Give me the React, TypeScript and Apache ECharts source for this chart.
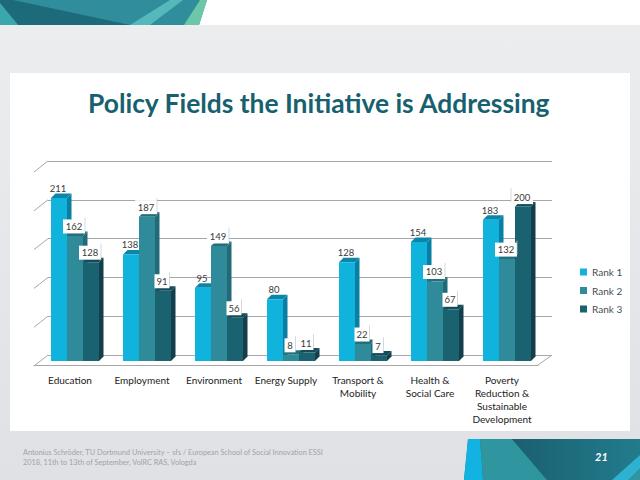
import React, { useEffect, useRef } from "react";
import * as echarts from "echarts";

const categories = ["Education", "Employment", "Environment", "Energy Supply", "Transport &\nMobility", "Health &\nSocial Care", "Poverty\nReduction &\nSustainable\nDevelopment"];
const rank1 = [211, 138, 95, 80, 128, 154, 183];
const rank2 = [162, 187, 149, 8, 22, 103, 132];
const rank3 = [128, 91, 56, 11, 7, 67, 200];
const rankNames = ["Rank 1", "Rank 2", "Rank 3"];
const wallTicks = [0, 50, 100, 150, 200, 250];
const titleText = "Policy Fields the Initiative is Addressing";
const footerText = "Antonius Schröder, TU Dortmund University – sfs / European School of Social Innovation ESSI\n2018, 11th to 13th of September, VolRC RAS, Vologda";
const pageNumber = "21";

const FONT = "Lato";
const faces = [
  { front: "#0fb3dc", top: "#0a86ab", side: "#0a7fa3" },
  { front: "#2f8a99", top: "#246f7c", side: "#226a76" },
  { front: "#1b6271", top: "#134b58", side: "#123f4b" },
];

function barItem(rank: number) {
  return (_: any, api: any) => {
    const [cx, y] = api.coord([api.value(0), api.value(1)]);
    const [, base] = api.coord([api.value(0), 0]);
    const band = api.size([1, 0])[0];
    const w = (band * 2) / 9;
    const x = cx + (rank - 1) * w - w / 2;
    const d = 4.5;
    const c = faces[rank];
    return {
      type: "group",
      children: [
        { type: "polygon", shape: { points: [[x + w, y], [x + w + d, y - d], [x + w + d, base - d], [x + w, base]] }, style: { fill: c.side } },
        { type: "polygon", shape: { points: [[x, y], [x + w, y], [x + w + d, y - d], [x + d, y - d]] }, style: { fill: c.top } },
        { type: "rect", shape: { x, y, width: w, height: base - y }, style: { fill: c.front } },
      ],
    };
  };
}

function labelItem(rank: number) {
  return (_: any, api: any) => {
    const v = api.value(1);
    const [cx, y] = api.coord([api.value(0), v]);
    const band = api.size([1, 0])[0];
    const w = (band * 2) / 9;
    const tx = cx + (rank - 1) * w - 1;
    const ty = y - 9.5;
    const text = String(v);
    const bw = text.length > 2 ? 22 : text.length > 1 ? 15 : 11;
    const children: any[] = [];
    if (rank > 0) {
      const leftRule = v === 200;
      const rx = leftRule ? tx - bw / 2 : tx + bw / 2;
      children.push({ type: "rect", shape: { x: tx - bw / 2, y: ty - 7, width: bw, height: 14 }, style: { fill: "#ffffff" } });
      children.push({ type: "line", shape: { x1: rx, y1: ty - 9, x2: rx, y2: ty + 5 }, style: { stroke: "#c4c8ca", lineWidth: 0.7 } });
    }
    children.push({ type: "text", style: { text, x: tx, y: ty, align: "center", verticalAlign: "middle", fontFamily: FONT, fontSize: 9.5, fill: "#3a3a3a" } });
    return { type: "group", children };
  };
}

function wallItem(_: any, api: any) {
  const v = api.value(0);
  const [x, y] = api.coord([0, v]);
  return { type: "line", shape: { x1: x, y1: y, x2: x - 14, y2: y + 11 }, style: { stroke: "#a5a8aa", lineWidth: 1 } };
}

function floorEdgeItem(_: any, api: any) {
  const [x, y] = api.coord([1, api.value(0)]);
  return { type: "line", shape: { x1: x, y1: y, x2: x - 14, y2: y + 10 }, style: { stroke: "#a5a8aa", lineWidth: 1 } };
}

export default function App() {
  const ref = useRef<HTMLDivElement>(null);
  useEffect(() => {
    document.body.style.margin = "0";
    const chart = echarts.init(ref.current!, undefined, { renderer: "svg" });
    const values = [rank1, rank2, rank3];
    const poly = (points: number[][], fill: any) => ({ type: "polygon", shape: { points }, style: { fill }, silent: true });
    chart.setOption({
      animation: false,
      backgroundColor: "#ffffff",
      title: {
        text: titleText,
        left: 83,
        top: 85,
        textStyle: { fontFamily: FONT, fontSize: 26.4, fontWeight: "bold", color: "#17616f" },
      },
      legend: {
        orient: "vertical",
        left: 575,
        top: 262,
        itemWidth: 7,
        itemHeight: 7,
        itemGap: 8.5,
        icon: "rect",
        data: rankNames,
        textStyle: { fontFamily: FONT, fontSize: 10, color: "#3f4f55" },
      },
      grid: [
        { left: 39, width: 504, top: 168, height: 193 },
        { left: 34, width: 504, top: 168, height: 197 },
        { left: 48, width: 504, top: 161, height: 194 },
      ],
      xAxis: [
        { type: "category", gridIndex: 0, data: categories, show: false },
        {
          type: "category",
          gridIndex: 1,
          data: categories,
          axisTick: { show: false },
          axisLine: { show: true, lineStyle: { color: "#a5a8aa", width: 1.2 } },
          axisLabel: { interval: 0, margin: 8, fontFamily: FONT, fontSize: 10, lineHeight: 13, color: "#222222" },
        },
        { type: "value", gridIndex: 2, min: 0, max: 1, show: false },
      ],
      yAxis: [
        { type: "value", gridIndex: 0, min: 0, max: 250, show: false },
        { type: "value", gridIndex: 1, min: 0, max: 250, show: false },
        {
          type: "value",
          gridIndex: 2,
          min: 0,
          max: 250,
          interval: 50,
          axisLine: { show: false },
          axisTick: { show: false },
          axisLabel: { show: false },
          splitLine: { show: true, lineStyle: { color: "#a5a8aa", width: 1.2 } },
        },
      ],
      graphic: {
        elements: [
          { type: "rect", z: -10, silent: true, shape: { x: 0, y: 25, width: 640, height: 455 }, style: { fill: new echarts.graphic.LinearGradient(0, 0, 0, 1, [{ offset: 0, color: "#ecedef" }, { offset: 1, color: "#dfe1e4" }]) } },
          { type: "rect", z: -9, silent: true, shape: { x: 10, y: 73, width: 620, height: 358 }, style: { fill: "#ffffff" } },
          { ...poly([[0, 0], [207, 0], [199, 25], [0, 25]], "#2f8d9c"), z: -9 },
          { ...poly([[0, 0], [13, 0], [130, 25], [18, 25], [0, 3]], "#1d6a7a"), z: -8 },
          { ...poly([[0, 3], [18, 25], [0, 25]], "#3aa7ad"), z: -8 },
          { ...poly([[170, 0], [130, 25], [150, 25], [183, 0]], "#55b8bb"), z: -8 },
          { ...poly([[200, 0], [207, 0], [199, 25], [184, 25]], "#6cc7a8"), z: -8 },
          { ...poly([[468, 439], [640, 439], [640, 480], [464, 480]], "#1f7a8b"), z: -9 },
          { ...poly([[468, 439], [480, 439], [483, 480], [464, 480]], "#12b3e2"), z: -8 },
          { ...poly([[480, 439], [512, 439], [547, 480], [483, 480]], "#2f959f"), z: -8 },
          { ...poly([[512, 439], [640, 439], [640, 455], [612, 480], [547, 480]], new echarts.graphic.LinearGradient(0, 0, 1, 0, [{ offset: 0, color: "#1a5f70" }, { offset: 1, color: "#227c8c" }])), z: -8 },
          { ...poly([[640, 455], [640, 480], [612, 480]], "#2fb2d2"), z: -8 },
          { ...poly([[640, 468], [640, 480], [628, 480]], "#2f959f"), z: -7 },
          { type: "text", z: 5, silent: true, style: { x: 23, y: 448, text: footerText, fontFamily: FONT, fontSize: 7.3, lineHeight: 9.5, fill: "#a0a4a8" } },
          { type: "text", z: 5, silent: true, style: { x: 595, y: 451, text: pageNumber, fontFamily: FONT, fontSize: 11, fontWeight: "bold", fontStyle: "italic", fill: "#ffffff" } },
        ],
      },
      series: [
        { type: "custom", xAxisIndex: 2, yAxisIndex: 2, z: 2, silent: true, clip: false, data: wallTicks.map((v) => [v]), encode: { x: -1, y: 0 }, renderItem: wallItem },
        { type: "custom", xAxisIndex: 2, yAxisIndex: 2, z: 2, silent: true, clip: false, data: [[wallTicks[0]]], encode: { x: -1, y: 0 }, renderItem: floorEdgeItem },
        ...values.map((vals, r) => ({
          type: "custom",
          name: rankNames[r],
          xAxisIndex: 0,
          yAxisIndex: 0,
          z: 3,
          silent: true,
          clip: false,
          itemStyle: { color: faces[r].front },
          data: vals.map((v, i) => [i, v]),
          encode: { x: 0, y: 1 },
          renderItem: barItem(r),
        })),
        ...values.map((vals, r) => ({
          type: "custom",
          xAxisIndex: 0,
          yAxisIndex: 0,
          z: 4,
          silent: true,
          clip: false,
          data: vals.map((v, i) => [i, v]),
          encode: { x: 0, y: 1 },
          renderItem: labelItem(r),
        })),
      ],
    });
    return () => chart.dispose();
  }, []);
  return <div ref={ref} style={{ position: "fixed", left: 0, top: 0, width: 640, height: 480 }} />;
}
